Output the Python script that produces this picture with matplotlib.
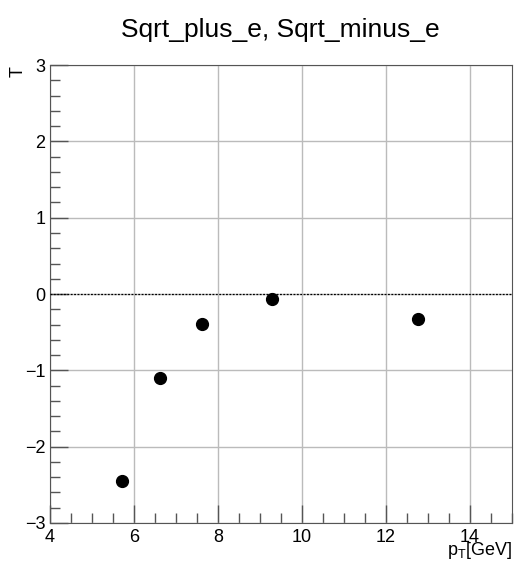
import matplotlib
matplotlib.use('Agg')
import matplotlib.pyplot as plt
from matplotlib.ticker import MultipleLocator

# データ
pt = [5.71, 6.62, 7.62, 9.29, 12.76]
T = [-2.45, -1.10, -0.39, -0.066, -0.33]

plt.rcParams['font.family'] = ['Liberation Sans', 'DejaVu Sans']

fig = plt.figure(figsize=(5.2, 5.66), dpi=100)
ax = fig.add_axes([0.0962, 0.076, 0.8884, 0.809])

ax.plot(pt, T, 'o', color='black', markersize=8.5, zorder=5)
ax.axhline(0, color='black', lw=0.9, ls=(0, (1.5, 1.2)), zorder=4)

ax.set_xlim(4, 15)
ax.set_ylim(-3, 3)
ax.xaxis.set_major_locator(MultipleLocator(2))
ax.xaxis.set_minor_locator(MultipleLocator(0.5))
ax.yaxis.set_major_locator(MultipleLocator(1))
ax.yaxis.set_minor_locator(MultipleLocator(0.2))
ax.tick_params(which='both', direction='in', top=False, right=False,
               color='#555555', labelsize=13)
ax.tick_params(which='major', length=13, width=1)
ax.tick_params(which='minor', length=7, width=1)
ax.tick_params(axis='x', pad=4)
ax.grid(True, which='major', color='#bbbbbb', lw=1)
for s in ax.spines.values():
    s.set_color('#555555')

fig.text(0.54, 0.947, 'Sqrt_plus_e, Sqrt_minus_e', ha='center', va='center', fontsize=19)
fig.text(0.985, 0.019, r'p$_\mathregular{T}$[GeV]', ha='right', va='baseline', fontsize=13)
fig.text(0.035, 0.873, 'T', ha='center', va='center', rotation=90, fontsize=13)

plt.savefig('out.png')
